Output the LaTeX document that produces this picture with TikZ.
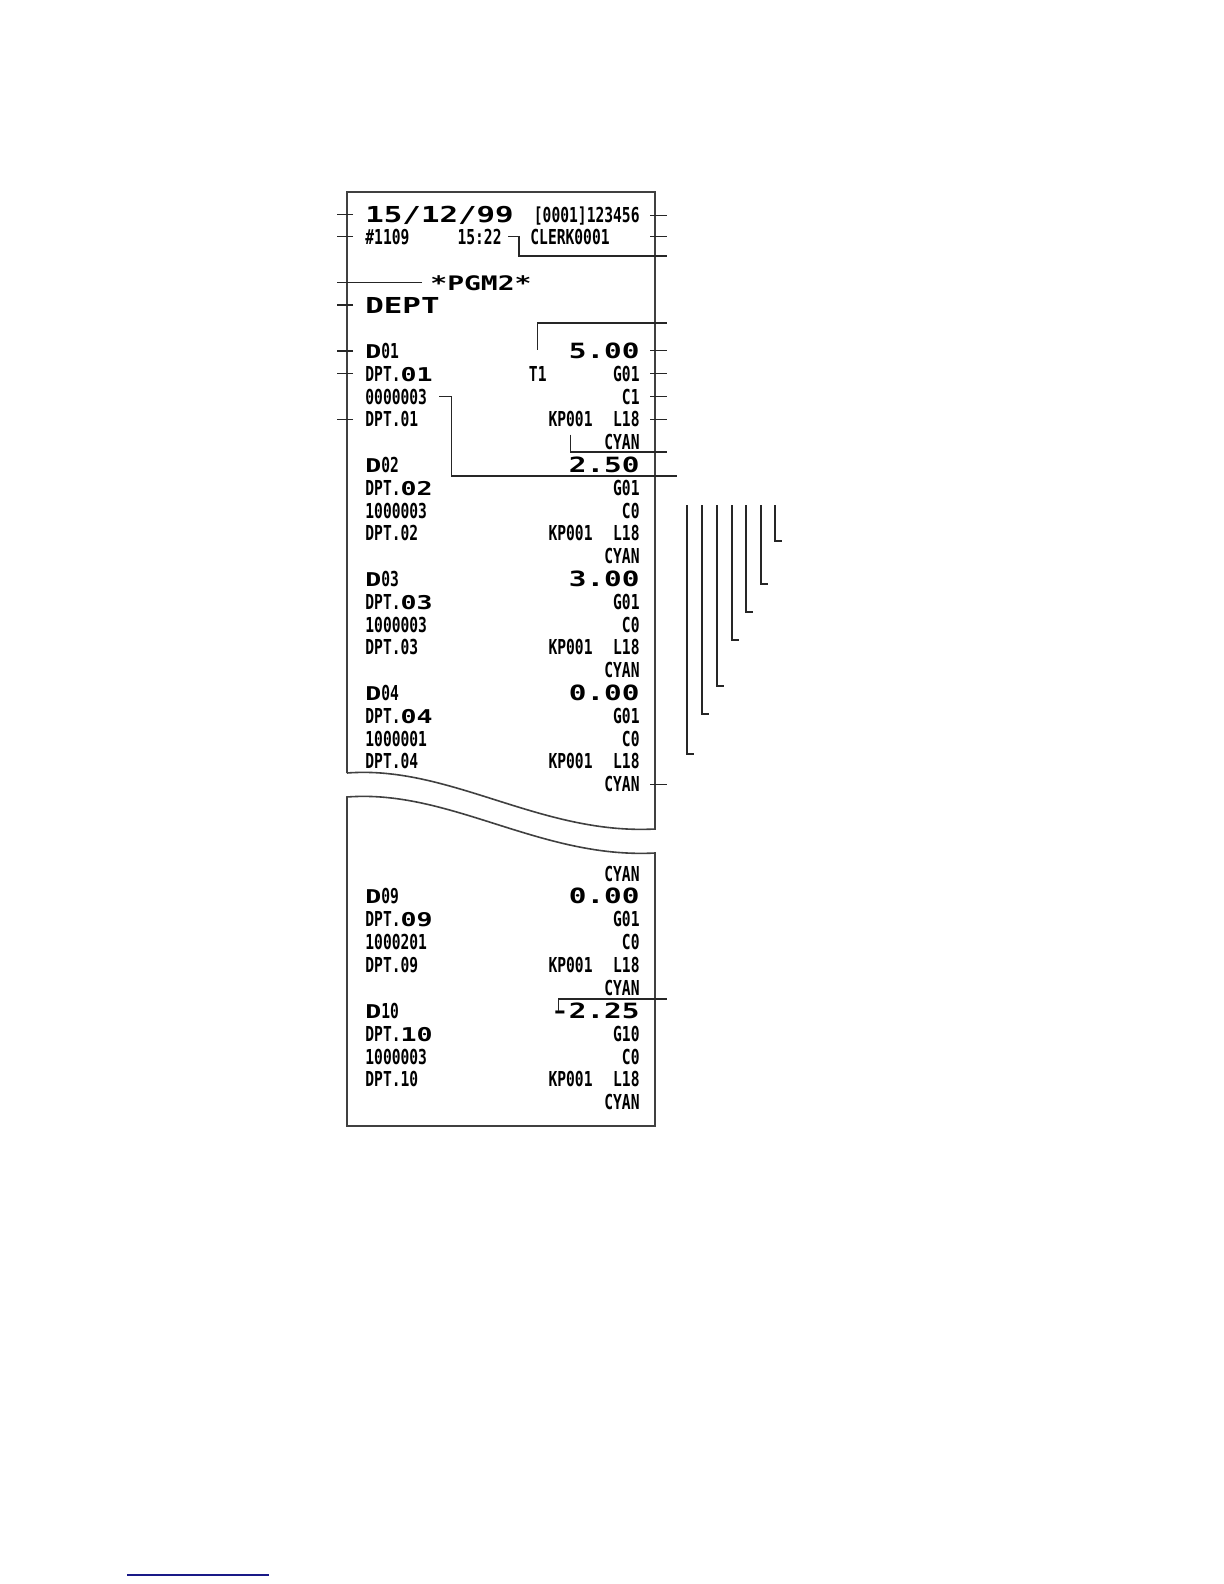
\documentclass[tikz,border=0pt]{standalone}
\usepackage{fontspec}
\usepackage{xcolor}
\usepackage{tikz}

\newfontfamily\rsmall[FakeStretch=0.71]{DejaVu Sans Mono}
\newfontfamily\rbig[FakeStretch=1.4]{DejaVu Sans Mono}
\newcommand{\rcb}[2]{{\rbig\bfseries\fontsize{#1}{#1}\selectfont #2}}
\definecolor{linkblue}{RGB}{25,25,135}

\begin{document}
\begin{tikzpicture}[
    x=0.5pt, y=-0.5pt,
    txt/.style={inner sep=0pt, anchor=base west, font=\rsmall\bfseries\fontsize{10.3}{12}\selectfont},
    rtxt/.style={txt, anchor=base east},
    bigf/.style={font=\rbig\bfseries\fontsize{#1}{#1}\selectfont},
    paper/.style={draw=black!75, line width=0.8pt},
    lead/.style={draw=black!85, line width=0.55pt},
    ltick/.style={lead, shorten <=6pt},
    rtick/.style={lead, shorten <=5pt}
]
\fill[white] (0,0) rectangle (1224,1584);

% --- upper part of the slip
\draw[paper] (347,773) -- (347,192) -- (655,192) -- (655,829)
    .. controls (540,835) and (450,765) .. (347,773);
% --- lower part of the slip
\draw[paper] (655,853) .. controls (540,859) and (450,789) .. (347,797)
    -- (347,1126) -- (655,1126) -- cycle;

% --- header
\node[txt, bigf=11] (date) at (365,222) {15/12/99};
\node[rtxt] (serial) at (640,222) {[0001]123456};
\node[txt] (cons) at (365,244) {\#1109};
\node[rtxt] (time) at (502,244) {15:22};
\node[txt] (clerk) at (530,244) {CLERK0001};
\node[txt, bigf=10] (mode) at (430,290) {*PGM2*};
\node[txt, bigf=11] (rpt) at (365,313) {DEPT};

% --- D01 (with tax and class)
\node[txt] (d01) at (365,358.5) {\rcb{9.5}{D}01};
\node[rtxt, bigf=10.5] (amt01) at (640,358.5) {5.00};
\node[txt] (dpt01) at (365,381.3) {DPT.\rcb{9.5}{01}};
\node[rtxt] (tax01) at (547,381.3) {T1};
\node[rtxt] (grp01) at (640,381.3) {G01};
\node[txt] (pid01) at (365,404.1) {0000003};
\node[rtxt] (cls01) at (640,404.1) {C1};
\node[txt] (txt01) at (365,426.9) {DPT.01};
\node[rtxt] (kp01) at (593,426.9) {KP001};
\node[rtxt] (ln01) at (640,426.9) {L18};
\node[rtxt] (col01) at (640,449.7) {CYAN};

% --- D02 .. D04, D09, D10
\foreach \n/\a/\g/\p/\y in {02/2.50/G01/1000003/472.5, 03/3.00/G01/1000003/586.5,
    04/0.00/G01/1000001/700.5, 09/0.00/G01/1000201/903.9, 10/-2.25/G10/1000003/1018.4} {
  \node[txt] (d\n) at (365,\y) {\rcb{9.5}{D}\n};
  \node[rtxt, bigf=10.5] (amt\n) at (640,\y) {\a};
  \node[txt] (dpt\n) at (365,\y+22.8) {DPT.\rcb{9.5}{\n}};
  \node[rtxt] (grp\n) at (640,\y+22.8) {\g};
  \node[txt] (pid\n) at (365,\y+45.6) {\p};
  \node[rtxt] (cls\n) at (640,\y+45.6) {C0};
  \node[txt] (txt\n) at (365,\y+68.4) {DPT.\n};
  \node[rtxt] (kp\n) at (593,\y+68.4) {KP001};
  \node[rtxt] (ln\n) at (640,\y+68.4) {L18};
  \node[rtxt] (col\n) at (640,\y+91.2) {CYAN};
}
\node[rtxt] (colTop) at (640,881) {CYAN};

% --- left ticks
\foreach \t in {date, cons, rpt, d01, dpt01, txt01}
  \draw[ltick] (\t.west) -- ++(-14pt,0);
\draw[lead, shorten <=4pt] (mode.west) -- ++(-46.5pt,0);

% --- right ticks
\foreach \t in {serial, amt01, grp01, cls01, ln01, col04}
  \draw[rtick] (\t.east) -- ++(13.5pt,0);
\draw[rtick] (clerk.east -| serial.east) -- ++(13.5pt,0);

% --- bent leaders
\coordinate (timeEnd) at (667,256);
\coordinate (taxEnd) at (667,323);
\coordinate (kpEnd) at (667,452);
\coordinate (pidEnd) at (677,476);
\coordinate (negEnd) at (667,999);
\draw[lead] ([xshift=3pt]time.east) -- ++(5.5pt,0) |- (timeEnd);
\draw[lead] ([yshift=8pt]tax01.north) |- (taxEnd);
\draw[lead] ([yshift=-3.5pt]kp01.south) |- (kpEnd);
\draw[lead] ([xshift=6pt]pid01.east) -- ++(6pt,0) |- (pidEnd);
\draw[lead] ([xshift=4pt]amt10.west) |- (negEnd);

% --- stepped leaders
\foreach \x/\e in {687/754, 702/714, 717/686, 732/640, 746/612, 761/584, 775/541}
  \draw[lead] (\x,505) |- (\x+6.5,\e);

\draw[linkblue, line width=0.9pt] (127,1575) -- (269,1575);
\end{tikzpicture}
\end{document}
